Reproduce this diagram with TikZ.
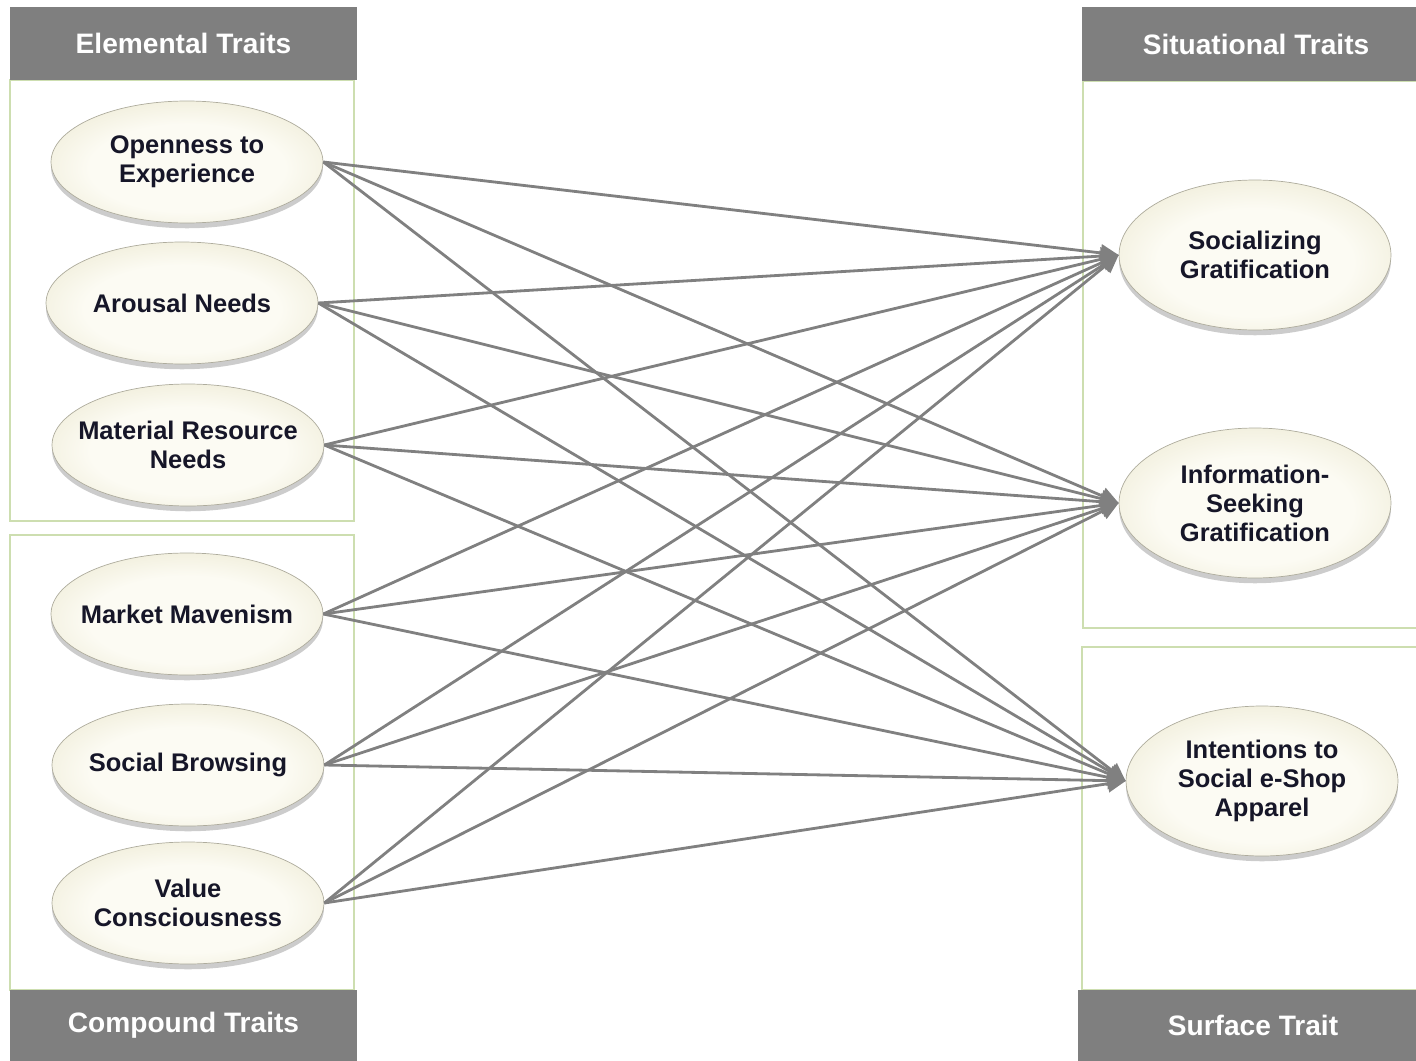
\documentclass[tikz,border=0pt]{standalone}
\usepackage{fontspec}
\setmainfont{Liberation Sans}
\usetikzlibrary{
    arrows.meta,
    positioning,
    shapes.geometric,
    shadows
}
\definecolor{headgray}{RGB}{127,127,127}
\definecolor{boxgreen}{RGB}{205,222,176}
\definecolor{linkgray}{RGB}{128,128,128}
\definecolor{traitin}{RGB}{252,251,243}
\definecolor{traitmid}{RGB}{238,235,214}
\definecolor{traitrim}{RGB}{200,196,166}
\definecolor{traitout}{RGB}{120,116,92}
\definecolor{traitink}{RGB}{22,22,40}
\pgfdeclareradialshading{traitshade}{\pgfpoint{0bp}{-3bp}}{%
    color(0bp)=(traitin); color(18bp)=(traitin); color(32bp)=(traitmid);
    color(43bp)=(traitrim); color(50bp)=(traitout); color(100bp)=(traitout)}
\tikzset{
    % --- Gray title bar of a trait group ---
    group head/.style = {
        rectangle, fill=headgray, inner sep=0pt,
        minimum height=1.46cm, text=white,
        font=\fontsize{16}{19}\selectfont\bfseries
    },
    % --- Light green frame round a trait group ---
    group border/.style = {
        draw=boxgreen, line width=1.5pt
    },
    % --- Trait ellipse ---
    trait/.style = {
        ellipse, shading=traitshade, draw=traitout!60, thin,
        minimum width=5.44cm, minimum height=2.44cm,
        inner xsep=-0.4cm, inner ysep=0pt,
        align=center, text=traitink,
        font=\fontsize{14.5}{16.5}\selectfont\bfseries,
        drop shadow={shadow xshift=0pt, shadow yshift=-3pt, opacity=0.4}
    },
    % --- Taller trait ellipse (right side) ---
    big trait/.style = {
        trait, minimum height=3.0cm
    },
    % --- Path from a trait to an outcome ---
    link/.style = {
        -{Triangle[length=0.36cm, width=0.34cm]},
        draw=linkgray, line width=1.6pt
    }
}

\begin{document}
\begin{tikzpicture}[x=0.02cm, y=-0.02cm]

\useasboundingbox (0,0) rectangle (1416,1061);
\clip (0,0) rectangle (1416,1061);

% ---------------------------------------------------------
% Group frames
% ---------------------------------------------------------
\draw[group border] (10,80) rectangle (354,521);
\draw[group border] (10,535) rectangle (354,990);
\draw[group border] (1083,81) rectangle (1430,628);
\draw[group border] (1082,647) rectangle (1430,990);

% ---------------------------------------------------------
% Group titles
% ---------------------------------------------------------
\node[group head, minimum width=6.94cm] (elemHead) at (183.5,43.5) {Elemental Traits};
\node[group head, minimum width=6.94cm, minimum height=1.42cm] (compHead) at (183.5,1025.5) {Compound Traits};
\node[group head, minimum width=6.96cm, minimum height=1.48cm] (sitHead) at (1256,44) {Situational Traits};
\node[group head, minimum width=7.0cm, minimum height=1.42cm] (surfHead) at (1253,1025.5) {Surface Trait};

% ---------------------------------------------------------
% Elemental and compound traits (left)
% ---------------------------------------------------------
\node[trait] (open) at (187,162) {Openness to\\Experience};
\node[trait] (arousal) at (182,303) {Arousal Needs};
\node[trait] (material) at (188,445) {Material Resource\\Needs};
\node[trait] (maven) at (187,614) {Market Mavenism};
\node[trait] (browse) at (188,765) {Social Browsing};
\node[trait] (value) at (188,903) {Value\\Consciousness};

% ---------------------------------------------------------
% Situational and surface traits (right)
% ---------------------------------------------------------
\node[big trait] (social) at (1255,255) {Socializing\\Gratification};
\node[big trait] (info) at (1255,503) {Information-\\Seeking\\Gratification};
\node[big trait] (intent) at (1262,781) {Intentions to\\Social e-Shop\\Apparel};

% ---------------------------------------------------------
% Paths: every left trait -> every right trait
% ---------------------------------------------------------
\foreach \src in {open, arousal, material, maven, browse, value}
    \foreach \dst in {social, info, intent}
        \draw[link] (\src.east) -- (\dst.west);

\end{tikzpicture}
\end{document}
